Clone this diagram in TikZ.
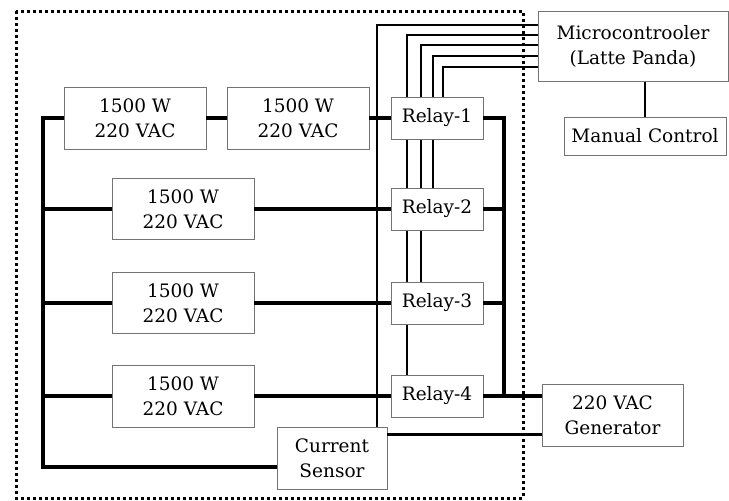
\documentclass[tikz,border=0pt]{standalone}
\usepackage{fontspec}
\setmainfont{DejaVu Serif}
\usetikzlibrary{calc, backgrounds}

\begin{document}
\begin{tikzpicture}[x=1pt, y=-1pt,
    box/.style={draw=black!55, line width=0.8pt, fill=white, align=center,
        inner sep=0pt, font=\fontsize{18.5}{25}\selectfont},
    wire/.style={line width=3.6pt},
    ctrl/.style={line width=1.1pt}]
    \useasboundingbox (0,0) rectangle (729,501);

    % Define coordinates
    \coordinate (lt) at (43,118);
    \coordinate (lb) at (43,467);
    \coordinate (rt) at (504,118);
    \coordinate (rb) at (504,397);

    % Boxes
    \node[box, minimum width=142, minimum height=62] (loadA) at (135,118) {1500 W\\220 VAC};
    \node[box, minimum width=142, minimum height=62] (loadB) at (298,118) {1500 W\\220 VAC};
    \node[box, minimum width=142, minimum height=61] (load2) at (183,209) {1500 W\\220 VAC};
    \node[box, minimum width=142, minimum height=61] (load3) at (183,303) {1500 W\\220 VAC};
    \node[box, minimum width=142, minimum height=62] (load4) at (183,396) {1500 W\\220 VAC};
    \node[box, minimum width=92, minimum height=42] (relay1) at (437,118) {Relay-1};
    \node[box, minimum width=92, minimum height=42] (relay2) at (437,209) {Relay-2};
    \node[box, minimum width=92, minimum height=42] (relay3) at (437,303) {Relay-3};
    \node[box, minimum width=92, minimum height=42] (relay4) at (437,396) {Relay-4};
    \node[box, minimum width=110, minimum height=62] (cursensor) at (332,458) {Current\\Sensor};
    \node[box, minimum width=190, minimum height=70] (micro) at (633,46.5) {Microcontrooler\\(Latte Panda)};
    \node[box, minimum width=162, minimum height=38] (manual) at (645,136) {Manual Control};
    \node[box, minimum width=141, minimum height=62] (gen) at (612.5,415) {220 VAC\\Generator};

    % Control lines behind the boxes
    \begin{pgfonlayer}{background}
        \foreach \y/\x/\t in {25/377/cursensor, 35/407/relay4, 45/421/relay3, 56/433/relay2, 67/443/relay1}
            \draw[ctrl] (micro.west |- 0,\y) -| (\t.north -| \x,0);
    \end{pgfonlayer}
    \draw[ctrl] (manual.north) -- (manual.north |- micro.south);

    % Draw the power wires
    \draw[wire] (loadA.west) -- (lt) -- (lb) -- (lb -| cursensor.west);
    \draw[wire] (loadA.east) -- (loadB.west);
    \draw[wire] (loadB.east) -- (relay1.west);
    \foreach \n in {2,3,4} {
        \draw[wire] (load\n.west) -- (load\n.west -| lt);
        \draw[wire] (load\n.east) -- (relay\n.west);
    }
    \draw[wire] (relay1.east) -- (rt) -- (rb);
    \draw[wire] (relay2.east) -- (relay2.east -| rt);
    \draw[wire] (relay3.east) -- (relay3.east -| rt);
    \draw[wire] (relay4.east) -- (relay4.east -| gen.west);
    \draw[wire] ([yshift=-8pt]cursensor.north east) coordinate (csout) -- (csout -| gen.west);

    % Dotted frame
    \draw[line width=3pt, dash pattern=on 3pt off 3pt] (16,11) rectangle (523,498);
\end{tikzpicture}
\end{document}
